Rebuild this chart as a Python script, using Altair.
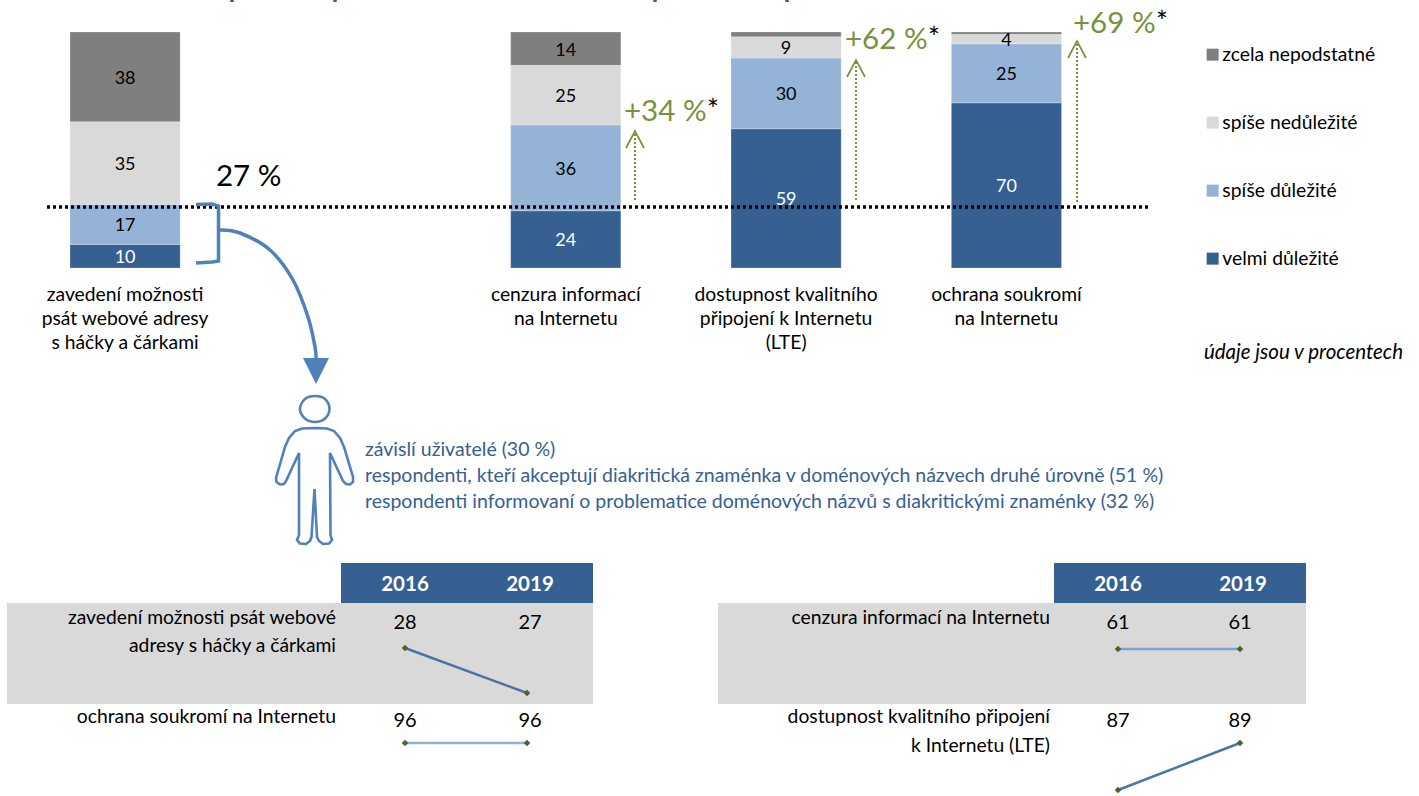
import altair as alt
import pandas as pd

FONT = "Lato"
W, H = 1419, 796
BODY = 19.3
INK = "#000000"
BLUE = "#366092"
GREEN = "#76923c"
ICON = "#4f81bd"

# Stacked bars: answer shares per topic
topics = ["zavedení", "", "cenzura", "lte", "soukromí"]
levels = ["zcela nepodstatné", "spíše nedůležité", "spíše důležité", "velmi důležité"]
level_colors = ["#7f7f7f", "#d9d9d9", "#95b3d7", BLUE]
share_velmi = [10, None, 24, 59, 70]
share_spise = [17, None, 36, 30, 25]
share_ned = [35, None, 25, 9, 4]
share_zcela = [38, None, 14, 2, 1]

topic_labels = [
    ["zavedení možnosti", "psát webové adresy", "s háčky a čárkami"],
    [],
    ["cenzura informací", "na Internetu"],
    ["dostupnost kvalitního", "připojení k Internetu", "(LTE)"],
    ["ochrana soukromí", "na Internetu"],
]
topic_label_y = 295
topic_line_gap = 24

# Slope panels below the bars
years = ["2016", "2019"]
slopes = [
    dict(vals=[28, 27], dom=[27, 28], xr=[405, 527], yr=[693, 648], color="#4f719f"),
    dict(vals=[96, 96], dom=[95, 97], xr=[405, 527], yr=[790, 696], color="#8fb0d6"),
    dict(vals=[61, 61], dom=[60, 62], xr=[1118, 1240], yr=[696, 602], color="#7ea2cb"),
    dict(vals=[87, 89], dom=[87, 89], xr=[1118, 1240], yr=[790, 743], color="#4a76a8"),
]

# Background panels
panels_x0 = [7, 718, 341, 1054]
panels_x1 = [593, 1306, 593, 1306]
panels_y0 = [603, 603, 563, 563]
panels_y1 = [704, 704, 603, 603]
panel_colors = ["#d9d9d9", "#d9d9d9", BLUE, BLUE]

# Free-standing text
row_text_x = [336, 336, 336, 1050, 1050, 1050]
row_text_y = [618, 646, 717, 618, 717, 746]
row_text = [
    "zavedení možnosti psát webové",
    "adresy s háčky a čárkami",
    "ochrana soukromí na Internetu",
    "cenzura informací na Internetu",
    "dostupnost kvalitního připojení",
    "k Internetu (LTE)",
]
year_x = [405, 530, 1118, 1243]
year_text = ["2016", "2019", "2016", "2019"]
value_x = [405, 530, 405, 530, 1118, 1240, 1118, 1240]
value_y = [623, 623, 721, 721, 623, 623, 721, 721]
value_text = ["28", "27", "96", "96", "61", "61", "87", "89"]
note_lines = [
    "závislí uživatelé (30 %)",
    "respondenti, kteří akceptují diakritická znaménka v doménových názvech druhé úrovně (51 %)",
    "respondenti informovaní o problematice doménových názvů s diakritickými znaménky (32 %)",
]
note_y = [450, 476, 502]
gain_x = [624, 845, 1073]
gain_y = [112, 40, 24]
gain_text = ["+34 %", "+62 %", "+69 %"]
star_x = [707, 928, 1156]

# Arrows next to the gains
arrow_x = [635, 856, 1077]
arrow_tip = [131, 60, 41]
arrow_base = [200, 200, 202]

# Descenders of the heading line, cut by the top edge
heading_marks_x = [232, 335, 655, 787]

px_x = alt.Scale(domain=[0, W], range=[0, W])
px_y = alt.Scale(domain=[0, H], range=[0, H])


def X(f="x"):
    return alt.X(f"{f}:Q", scale=px_x, axis=None)


def Y(f="y"):
    return alt.Y(f"{f}:Q", scale=px_y, axis=None)


def text_layer(xs, ys, texts, color=INK, size=BODY, align="center", **kw):
    df = pd.DataFrame({"x": xs, "y": ys, "t": texts})
    return alt.Chart(df).mark_text(
        font=FONT, fontSize=size, color=color, align=align, baseline="middle", **kw
    ).encode(x=X(), y=Y(), text="t:N")


def stroke_layer(points, color, width, dash=None, interpolate="linear"):
    df = pd.DataFrame(points, columns=["x", "y"]).assign(o=range(len(points)))
    kw = {"strokeDash": dash} if dash else {}
    return alt.Chart(df).mark_line(
        color=color, strokeWidth=width, interpolate=interpolate, **kw
    ).encode(x=X(), y=Y(), order="o:Q")


# Stacked table, each topic normalised to the full height
rows = []
for i, t in enumerate(topics):
    if share_velmi[i] is None:
        continue
    parts = [share_velmi[i], share_spise[i], share_ned[i], share_zcela[i]]
    total = sum(parts)
    acc = 0
    for lvl, v in zip(levels[::-1], parts):
        rows.append(dict(topic=t, level=lvl, value=v, start=acc / total, end=(acc + v) / total))
        acc += v
bars_df = pd.DataFrame(rows)
bars_df["mid"] = (bars_df.start + bars_df.end) / 2

band = alt.Scale(domain=topics, range=[14.9, 1116.6], paddingInner=0.5, paddingOuter=0.25)
share = alt.Scale(domain=[0, 1], range=[268, 32])
topic_x = alt.X("topic:N", scale=band, axis=None, sort=topics)

bars = alt.Chart(bars_df).mark_bar(stroke="#ffffff", strokeWidth=0.4, strokeOpacity=0.6).encode(
    x=topic_x,
    y=alt.Y("start:Q", scale=share, axis=None),
    y2="end:Q",
    color=alt.Color(
        "level:N",
        scale=alt.Scale(domain=levels, range=level_colors),
        sort=levels,
        legend=alt.Legend(
            title=None,
            orient="none",
            legendX=1203,
            legendY=45,
            symbolType="square",
            symbolSize=144,
            symbolStrokeWidth=0,
            symbolOpacity=1,
            labelFont=FONT,
            labelFontSize=BODY,
            labelColor=INK,
            labelOffset=0,
            rowPadding=48,
        ),
    ),
)

bar_labels = alt.Chart(bars_df[bars_df.value >= 4]).mark_text(
    font=FONT, fontSize=18, baseline="middle", dy=2
).encode(
    x=topic_x,
    y=alt.Y("mid:Q", scale=share, axis=None),
    text="value:Q",
    color=alt.condition(alt.datum.level == "velmi důležité", alt.value("#ffffff"), alt.value(INK)),
)

label_rows = [
    dict(topic=t, line=ln, y=topic_label_y + j * topic_line_gap)
    for i, t in enumerate(topics)
    for j, ln in enumerate(topic_labels[i])
]
topic_text = alt.Chart(pd.DataFrame(label_rows)).mark_text(
    font=FONT, fontSize=BODY, baseline="middle", color=INK
).encode(x=topic_x, y=Y(), text="line:N")

panels = alt.Chart(
    pd.DataFrame({"x": panels_x0, "x2": panels_x1, "y": panels_y0, "y2": panels_y1, "c": panel_colors})
).mark_rect().encode(x=X(), x2="x2:Q", y=Y(), y2="y2:Q", color=alt.Color("c:N", scale=None))

threshold = stroke_layer([(47, 207), (1150, 207)], INK, 3.4, dash=[3, 3])

arrows = []
for ax, tip, base in zip(arrow_x, arrow_tip, arrow_base):
    arrows.append(stroke_layer([(ax, base), (ax, tip + 2)], GREEN, 2, dash=[2, 2]))
    arrows.append(stroke_layer([(ax - 9, tip + 17), (ax, tip), (ax + 9, tip + 17)], GREEN, 1.7))

bracket = stroke_layer(
    [(196, 204.5), (212, 204), (218.5, 206), (218.5, 261), (212, 262), (196, 263)], ICON, 3.5
)
curve = stroke_layer(
    [(219, 230), (240, 233), (270, 250), (293, 280), (308, 317), (315, 347), (316, 360)],
    ICON, 3.5, interpolate="cardinal",
)
arrow_head = alt.Chart(pd.DataFrame({"x": [316], "y": [371]})).mark_point(
    shape="M-1,-1L1,-1L0,1Z", filled=True, opacity=1, color=ICON, size=676, strokeWidth=0
).encode(x=X(), y=Y())

head = stroke_layer(
    [(315, 396), (325, 399), (329.5, 409), (325, 418.5), (315, 422), (305, 418.5), (300, 409), (305, 399)],
    ICON, 2.6, interpolate="cardinal-closed",
)
body = stroke_layer(
    [
        (315, 428), (302, 428.5), (295, 431), (289, 438), (285, 447), (276, 478), (276.5, 482),
        (280, 484.5), (284, 484), (286, 481), (299, 453), (299, 535), (297, 540), (300, 543.5),
        (306, 544), (310, 541), (311.5, 537), (314.5, 489), (317, 537), (319, 541), (323, 544),
        (329, 543.5), (332, 540), (330.5, 535), (330, 453), (343, 481), (346, 484), (350, 484.5),
        (353, 482), (353, 477), (344, 447), (340, 438), (334, 431), (327, 428.5), (315, 428),
    ],
    ICON, 2.6,
)

heading_marks = [stroke_layer([(hx, 0), (hx, 2)], "#2f5fa8", 3.5) for hx in heading_marks_x]

spark_layers = []
for s in slopes:
    df = pd.DataFrame({"year": years, "v": s["vals"]})
    sx = alt.X("year:N", scale=alt.Scale(type="point", domain=years, range=s["xr"], padding=0), axis=None)
    sy = alt.Y("v:Q", scale=alt.Scale(domain=s["dom"], range=s["yr"]), axis=None)
    spark_layers.append(alt.Chart(df).mark_line(color=s["color"], strokeWidth=2.5).encode(x=sx, y=sy))
    spark_layers.append(
        alt.Chart(df).mark_point(shape="diamond", filled=True, opacity=1, color="#4f6228", size=44).encode(x=sx, y=sy)
    )

chart = alt.layer(
    panels,
    *heading_marks,
    bars,
    bar_labels,
    topic_text,
    threshold,
    *arrows,
    bracket,
    curve,
    arrow_head,
    head,
    body,
    *spark_layers,
    text_layer(row_text_x, row_text_y, row_text, align="right"),
    text_layer(year_x, [585] * 4, year_text, color="#ffffff", size=20.5, fontWeight="bold"),
    text_layer(value_x, value_y, value_text, size=20),
    text_layer([365] * 3, note_y, note_lines, color=BLUE, size=19.5, align="left"),
    text_layer(gain_x, gain_y, gain_text, color=GREEN, size=29.5, align="left"),
    text_layer(star_x, gain_y, ["*"] * 3, size=28, align="left"),
    text_layer([216], [177], ["27 %"], size=29.5, align="left"),
    text_layer([1403], [353], ["údaje jsou v procentech"], size=20.5, align="right", fontStyle="italic"),
).resolve_scale(x="independent", y="independent", color="independent").properties(
    width=W,
    height=H,
    padding=0,
    autosize=alt.AutoSizeParams(type="none"),
    background="#ffffff",
).configure_view(stroke=None)

chart.save("out.html", embed_options={"renderer": "svg", "actions": False})
